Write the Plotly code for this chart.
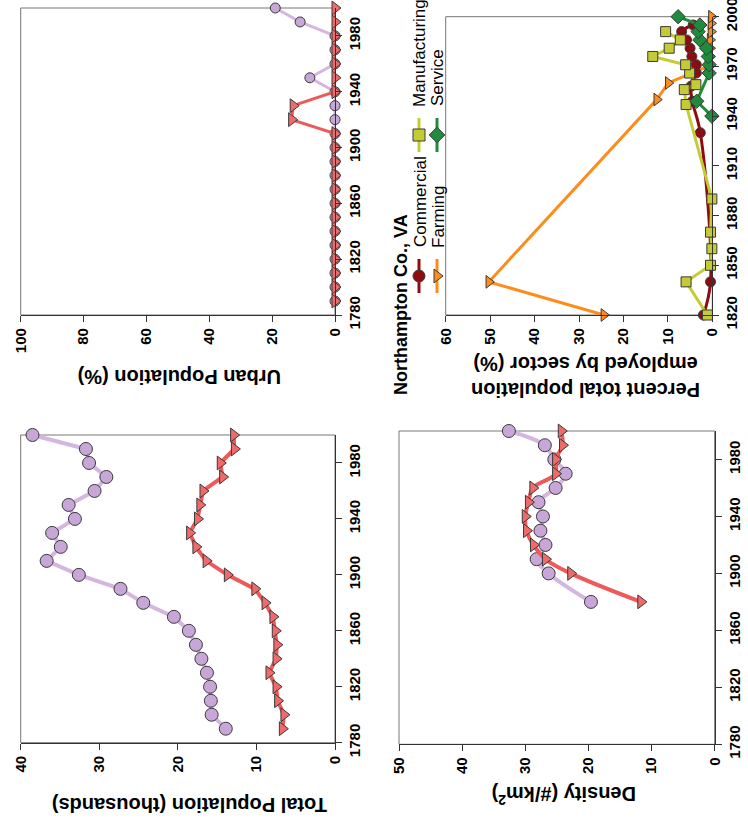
import plotly.graph_objects as go

W, H = 748, 823

# ---------------- data ----------------
# Urban population (%)
urban_years = [1790, 1800, 1810, 1820, 1830, 1840, 1850, 1860, 1870, 1880, 1890,
               1900, 1910, 1920, 1930, 1940, 1950, 1960, 1970, 1980, 1990, 2000]
urban_circle = [0, 0, 0, 0, 0, 0, 0, 0, 0, 0, 0,
                0, 0, 0, 0, 0, 8.0, 0, 0, 0, 11.1, 19.0]
urban_triangle = [0, 0, 0, 0, 0, 0, 0, 0, 0, 0, 0,
                  0, 0, 13.8, 13.3, 0, 0, 0, 0, 0, 0, 0]

# Total population (thousands)
pop_years = urban_years
pop_circle = [13.9, 15.7, 15.8, 15.9, 16.3, 17.0, 17.7, 18.6, 20.5, 24.4, 27.3,
              32.6, 36.7, 34.9, 36.0, 33.1, 33.9, 30.6, 29.1, 31.3, 31.7, 38.5]
pop_triangle = [6.7, 6.5, 7.3, 7.5, 8.4, 7.5, 7.4, 7.6, 7.9, 8.9, 10.2,
                13.7, 16.4, 17.7, 18.5, 17.5, 17.2, 16.8, 14.3, 14.6, 12.8, 12.9]

# Density (#/km2)
dens_years = [1880, 1900, 1910, 1920, 1930, 1940, 1950, 1960, 1970, 1980, 1990, 2000]
dens_circle = [19.6, 26.3, 28.2, 26.8, 27.6, 27.2, 27.9, 25.2, 23.6, 25.4, 26.9, 32.6]
dens_triangle = [11.7, 22.8, 26.8, 28.7, 29.8, 30.0, 29.5, 28.8, 25.2, 25.2, 24.1, 24.3]

# Percent total population employed by sector (%) - Northampton Co., VA
farming_years = [1820, 1840, 1950, 1960, 1970, 1976, 1981, 1986, 1991, 1996, 2000]
farming = [24.4, 50.3, 12.5, 9.9, 1.0, 0.6, 0.5, 0.5, 0.3, 0.3, 0.2]
commercial_years = [1820, 1840, 1930, 1949, 1958, 1966, 1971, 1976, 1981, 1986, 1991, 1995]
commercial = [2.0, 0.4, 2.7, 4.5, 4.8, 3.6, 3.6, 4.6, 5.0, 5.8, 6.9, 4.3]
manufacturing_years = [1820, 1840, 1850, 1860, 1870, 1890, 1947, 1956, 1959, 1966,
                       1971, 1976, 1981, 1986, 1991]
manufacturing = [1.1, 5.9, 0.4, 0.1, 0.4, 0.1, 5.9, 6.3, 3.7, 5.1, 6.0, 13.4, 9.7, 7.2, 10.5]
service_years = [1940, 1949, 1966, 1971, 1976, 1981, 1986, 1991, 1995, 2000]
service = [0.1, 3.5, 0.7, 0.7, 0.9, 1.3, 2.8, 3.2, 2.8, 7.7]

legend_labels = ["Commercial", "Farming", "Manufacturing", "Service"]
legend_title = "Northampton Co., VA"

# ---------------- styles ----------------
FONT = "Liberation Sans, Arial, sans-serif"
LILAC_F, LILAC_L = "#c9a6d8", "#d4b6e0"
RED_F, RED_L = "#f06a6a", "#ee5a5a"
COM, FARM, MAN, SERV = "#8e0c10", "#ff8c1a", "#c4cb34", "#1f8b3c"
OUT = dict(color="#3a3a3a", width=1)


def px_x(p):
    return p / W


def px_y(p):
    return 1 - p / H


fig = go.Figure()

panels = {
    "": dict(xd=(20.7, 335.0), yd=(8.0, 315.0), xr=[100, 0], xdt=20, yr=[1780, 2000], ydt=40, y0=1780),
    "2": dict(xd=(445.7, 712.3), yd=(16.7, 315.0), xr=[60, 0], xdt=10, yr=[1820, 2000], ydt=30, y0=1820),
    "3": dict(xd=(20.7, 335.0), yd=(435.0, 742.7), xr=[40, 0], xdt=10, yr=[1780, 2000], ydt=40, y0=1780),
    "4": dict(xd=(399.0, 714.7), yd=(431.0, 744.3), xr=[50, 0], xdt=10, yr=[1780, 2000], ydt=40, y0=1780),
}

tickfont = dict(family=FONT, size=15, color="black")
layout_axes = {}
for k, p in panels.items():
    layout_axes["xaxis" + k] = dict(
        domain=[px_x(p["xd"][0]), px_x(p["xd"][1])], range=p["xr"], anchor="y" + k,
        side="bottom", showgrid=False, zeroline=False, showline=True, linecolor="#333", linewidth=1.2,
        ticks="outside", ticklen=6, tickcolor="#333", tickmode="linear", dtick=p["xdt"], tick0=0,
        tickangle=-90, tickfont=tickfont, tickprefix="<b>", ticksuffix="</b>",
        ticklabeloverflow="allow", automargin=False)
    layout_axes["yaxis" + k] = dict(
        domain=[px_y(p["yd"][1]), px_y(p["yd"][0])], range=p["yr"], anchor="x" + k,
        side="right", showgrid=False, zeroline=False, showline=True, linecolor="#333", linewidth=1.2,
        ticks="outside", ticklen=6, tickcolor="#333", tickmode="linear", dtick=p["ydt"], tick0=p["y0"],
        tickangle=-90, tickfont=tickfont, tickprefix="<b>", ticksuffix="</b>",
        ticklabeloverflow="allow", automargin=False)

# overlay axes for the hand-built (rotated) legend, in pixel units
layout_axes["xaxis5"] = dict(domain=[0, 1], range=[0, W], visible=False, anchor="y5", automargin=False)
layout_axes["yaxis5"] = dict(domain=[0, 1], range=[H, 0], visible=False, anchor="x5", automargin=False)


def add(xs, ys, k, fill, line, symbol, size, lw, shape="linear"):
    fig.add_trace(go.Scatter(
        x=xs, y=ys, xaxis="x" + k, yaxis="y" + k, mode="lines+markers",
        line=dict(color=line, width=lw, shape=shape),
        marker=dict(symbol=symbol, size=size, color=fill, line=OUT),
        showlegend=False, hoverinfo="skip", cliponaxis=False))


# Panel 1: urban population
add(urban_circle, urban_years, "", LILAC_F, LILAC_L, "circle", 10, 3)
add(urban_triangle, urban_years, "", RED_F, RED_L, "triangle-right", 12, 3)

# Panel 3: total population
add(pop_circle, pop_years, "3", LILAC_F, LILAC_L, "circle", 13, 4)
add(pop_triangle, pop_years, "3", RED_F, RED_L, "triangle-right", 12, 4)

# Panel 4: density
add(dens_circle, dens_years, "4", LILAC_F, LILAC_L, "circle", 13, 4, "spline")
add(dens_triangle, dens_years, "4", RED_F, RED_L, "triangle-right", 12, 4, "spline")

# Panel 2: sectors
add(farming, farming_years, "2", FARM, FARM, "triangle-right", 11, 3)
add(commercial, commercial_years, "2", COM, COM, "circle", 10, 3, "spline")
add(manufacturing, manufacturing_years, "2", MAN, MAN, "square", 10, 3)
add(service, service_years, "2", SERV, SERV, "diamond", 11, 3)

# legend keys (rotated legend, drawn by hand)
leg_keys = [
    (legend_labels[0], COM, "circle", 419, 276, 202),
    (legend_labels[1], FARM, "triangle-right", 437, 276, 217),
    (legend_labels[2], MAN, "square", 419, 135, 53),
    (legend_labels[3], SERV, "diamond", 437, 135, 78),
]
annotations = []
for lab, col, sym, kx, ky, ty in leg_keys:
    fig.add_trace(go.Scatter(x=[kx, kx], y=[ky - 17, ky + 17], xaxis="x5", yaxis="y5", mode="lines",
                             line=dict(color=col, width=3), showlegend=False, hoverinfo="skip"))
    fig.add_trace(go.Scatter(x=[kx], y=[ky], xaxis="x5", yaxis="y5", mode="markers",
                             marker=dict(symbol=sym, size=12, color=col, line=OUT),
                             showlegend=False, hoverinfo="skip"))
    annotations.append(dict(text=lab, x=px_x(kx + 1), y=px_y(ty), xref="paper", yref="paper",
                            textangle=-90, showarrow=False, xanchor="center", yanchor="middle",
                            font=dict(family=FONT, size=17, color="black")))

annotations.append(dict(text="<b>" + legend_title + "</b>", x=px_x(401), y=px_y(305), xref="paper",
                        yref="paper", textangle=-90, showarrow=False, xanchor="center",
                        yanchor="middle", font=dict(family=FONT, size=18, color="black")))

# axis titles (upside down)
titles = [
    ("<b>Urban Population (%)</b>", 180, 377),
    ("<b>Percent total population<br>employed by sector (%)</b>", 586, 377),
    ("<b>Total Population (thousands)</b>", 190, 805),
    ("<b>Density (#/km<sup>2</sup>)</b>", 564, 796),
]
for t, x, y in titles:
    annotations.append(dict(text=t, x=px_x(x), y=px_y(y), xref="paper", yref="paper", textangle=180,
                            showarrow=False, xanchor="center", yanchor="middle",
                            font=dict(family=FONT, size=20, color="black")))

# grey frame (top/left of each plot box)
shapes = []
for k in panels:
    shapes.append(dict(type="rect", xref="x" + k + " domain", yref="y" + k + " domain",
                       x0=0, x1=1, y0=0, y1=1, line=dict(color="#777", width=1), layer="below"))

fig.update_layout(width=W, height=H, margin=dict(l=0, r=0, t=0, b=0, autoexpand=False),
                  paper_bgcolor="white", plot_bgcolor="rgba(0,0,0,0)", showlegend=False,
                  annotations=annotations, shapes=shapes, **layout_axes)

fig.write_html("out.html", config={"displayModeBar": False},
               post_script="document.body.style.margin='0px';")
